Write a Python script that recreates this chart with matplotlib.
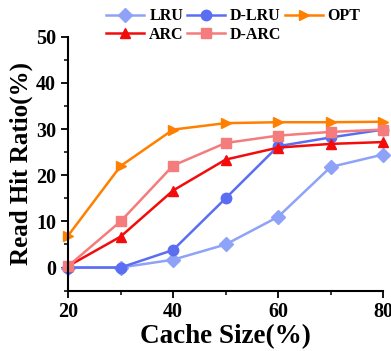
import matplotlib.pyplot as plt
import numpy as np

plt.rcParams['font.family'] = ['Liberation Serif', 'DejaVu Serif']
plt.rcParams['font.weight'] = 'bold'

# --------------------
# data
cache_size = [20, 30, 40, 50, 60, 70, 80]
lru = [0.0, 0.0, 1.7, 5.0, 11.0, 21.8, 24.5]
d_lru = [0.0, 0.0, 3.8, 15.0, 26.3, 28.2, 29.9]
opt = [6.9, 22.0, 29.9, 31.3, 31.5, 31.5, 31.6]
arc = [0.3, 6.7, 16.7, 23.4, 26.0, 26.8, 27.2]
d_arc = [0.3, 10.0, 22.1, 27.0, 28.6, 29.4, 29.9]

series = [
    ("LRU", lru, "#8ea3f7", "D"),
    ("D-LRU", d_lru, "#5b6ef2", "o"),
    ("OPT", opt, "#ff8000", ">"),
    ("ARC", arc, "#f20c0c", "^"),
    ("D-ARC", d_arc, "#f47c7c", "s"),
]

fig = plt.figure(figsize=(3.91, 3.51), dpi=100)
ax = fig.add_axes([0.174, 0.172, 0.806, 0.723])

lines = {}
for name, vals, col, mk in series:
    lines[name], = ax.plot(cache_size, vals, color=col, marker=mk, markersize=7.5,
                           linewidth=1.8, label=name, clip_on=False)

ax.set_xlim(20, 80)
ax.set_ylim(-5, 50)
ax.set_xticks([20, 40, 60, 80])
ax.set_xticks([30, 50, 70], minor=True)
ax.set_yticks([0, 10, 20, 30, 40, 50])
ax.set_yticks([-5, 5, 15, 25, 35, 45], minor=True)
ax.spines['top'].set_visible(False)
ax.spines['right'].set_visible(False)
ax.spines['left'].set_linewidth(1.5)
ax.spines['bottom'].set_linewidth(1.5)
ax.tick_params(which='major', direction='out', length=5, width=1.3, labelsize=14.5)
ax.tick_params(which='minor', direction='out', length=3, width=1.1)
for lab in ax.get_xticklabels() + ax.get_yticklabels():
    lab.set_fontweight('bold')

ax.set_xlabel("Cache Size(%)", fontsize=19.5, fontweight='bold', labelpad=1)
ax.set_ylabel("Read Hit Ratio(%)", fontsize=18, fontweight='bold', labelpad=2)

# column-major fill -> rows: LRU D-LRU OPT / ARC D-ARC
order = ["LRU", "ARC", "D-LRU", "D-ARC", "OPT"]
leg = fig.legend([lines[n] for n in order], order, loc='upper left',
                 bbox_to_anchor=(0.255, 0.995), ncol=3,
                 frameon=False, fontsize=11.5, handlelength=2.4,
                 handletextpad=0.3, columnspacing=0.2, labelspacing=0.15,
                 borderaxespad=0)
for t in leg.get_texts():
    t.set_fontweight('bold')

plt.savefig("out.png", dpi=100)
